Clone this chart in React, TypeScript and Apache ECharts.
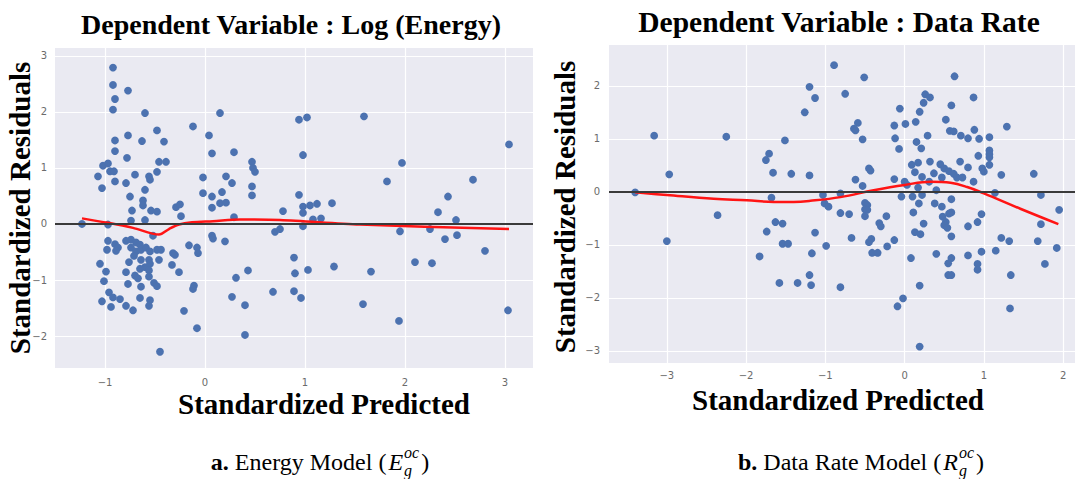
import { useEffect, useRef } from "react";
import * as echarts from "echarts";

// Residuals vs. predicted values, energy model: [standardized predicted, standardized residual]
const energyResiduals: [number, number][] = [
  [-0.92, 2.79], [-0.92, 2.48], [-0.77, 2.38], [-0.9, 2.23], [-0.92, 2.04], [-0.6, 1.98], [0.15, 1.98],
  [-0.12, 1.74], [-0.48, 1.67], [-0.77, 1.58], [0.04, 1.58], [-0.9, 1.49], [-0.63, 1.48], [-0.41, 1.47],
  [-0.9, 1.3], [0.07, 1.26], [0.29, 1.28], [-0.78, 1.18], [-0.46, 1.11], [-0.39, 1.11],
  [-1.02, 1.04], [-0.97, 1.08], [-0.95, 0.94], [-0.91, 0.94], [-0.9, 0.76], [-1.07, 0.85], [-1.03, 0.64],
  [-0.7, 0.88], [-0.79, 0.73], [-0.56, 0.85], [-0.55, 0.79], [-0.48, 0.93], [-0.6, 0.61], [-0.75, 0.49],
  [-0.62, 0.42], [-0.62, 0.33], [-0.73, 0.24], [-0.74, 0.06], [-0.6, 0.07], [-0.54, 0.24], [-0.48, 0.22],
  [-0.29, 0.3], [-0.25, 0.35], [-0.24, 0.14], [-0.02, 0.83], [-0.02, 0.55], [0.07, 0.49], [0.07, 0.29],
  [0.17, 0.57], [0.15, 0.37], [0.21, 0.38], [0.21, 0.85], [0.27, 0.73], [0.29, 0.12], [-1.23, 0.0],
  [-0.97, -0.01],
  [-0.97, -0.3], [-0.98, -0.46], [-0.9, -0.36], [-0.87, -0.42], [-0.89, -0.48], [-0.79, -0.3],
  [-0.74, -0.28], [-0.69, -0.33], [-0.65, -0.37], [-0.74, -0.42], [-0.69, -0.49], [-0.64, -0.46],
  [-0.59, -0.42], [-0.55, -0.49], [-0.48, -0.46], [-0.44, -0.46], [-0.71, -0.57], [-0.76, -0.68],
  [-0.64, -0.64], [-0.56, -0.64], [-0.46, -0.64], [-0.55, -0.71], [-0.6, -0.77], [-0.65, -0.8],
  [-0.56, -0.83], [-0.79, -0.86], [-0.7, -0.92], [-0.67, -0.97], [-0.56, -0.94], [-1.05, -0.71],
  [-0.99, -0.85], [-1.01, -1.02], [-0.77, -1.07], [-0.64, -1.12], [-0.51, -1.05], [-0.48, -1.11],
  [-0.96, -1.22], [-0.92, -1.31], [-0.85, -1.34], [-1.03, -1.38], [-0.94, -1.48], [-0.79, -1.46],
  [-0.72, -1.54], [-0.65, -1.32], [-0.55, -1.36], [-0.56, -1.46], [-0.32, -0.52], [-0.3, -0.55],
  [-0.33, -0.73], [-0.26, -0.86], [-0.16, -0.38], [-0.08, -0.42], [-0.07, -0.52], [-0.11, -1.1],
  [-0.12, -1.16], [-0.21, -1.55], [-0.08, -1.86], [-0.45, -2.28], [0.07, -0.21], [0.08, -0.26],
  [0.2, -0.31], [0.31, -0.96], [0.27, -1.3], [-0.52, -0.21],
  [0.47, 1.11], [0.48, 1.0], [0.5, 0.93], [0.47, 0.67], [0.47, 0.51], [0.7, -0.14],
  [0.43, -0.83], [0.4, -1.45], [0.4, -1.98], [0.68, -1.21],
  [0.94, 1.86], [1.02, 1.9], [1.59, 1.92], [3.04, 1.42], [0.98, 1.23], [1.97, 1.09], [1.82, 0.76],
  [2.68, 0.79], [2.43, 0.49], [0.94, 0.52], [0.98, 0.31], [0.98, 0.2], [1.05, 0.33], [1.12, 0.36],
  [1.27, 0.37], [0.78, 0.23], [1.08, 0.08], [1.16, 0.1], [2.33, 0.21], [2.51, 0.07], [0.98, -0.04],
  [0.75, -0.09], [1.95, -0.13], [2.25, -0.09], [2.4, -0.27], [2.52, -0.2],
  [2.8, -0.48], [2.1, -0.68], [2.27, -0.7], [0.89, -0.6], [0.9, -0.88], [1.03, -0.82], [1.29, -0.76],
  [1.66, -0.85], [0.89, -1.2], [0.96, -1.32], [1.58, -1.43], [1.94, -1.73], [3.03, -1.54],
];

// Locally weighted fit through the energy residuals
const energyTrend: [number, number][] = [
  [-1.23, 0.1], [-0.97, 0.02], [-0.72, -0.07], [-0.46, -0.19], [-0.36, -0.09], [-0.26, -0.01],
  [-0.13, 0.03], [0.08, 0.05], [0.35, 0.08], [0.75, 0.07], [1.55, -0.01], [3.04, -0.09],
];

// Residuals vs. predicted values, data rate model
const rateResiduals: [number, number][] = [
  [-0.51, 2.16], [0.63, 2.18], [-0.75, 1.85], [0.26, 1.84], [0.32, 1.78], [0.24, 1.68], [0.87, 1.78],
  [0.59, 1.63], [-0.06, 1.57], [0.19, 1.51], [0.52, 1.36], [-0.59, 1.3], [-0.64, 1.19], [-0.62, 1.16],
  [-0.13, 1.25], [0.01, 1.28], [0.14, 1.32], [0.57, 1.15], [0.62, 1.14], [0.88, 1.17], [1.29, 1.23],
  [-0.53, 0.99], [-0.12, 1.01], [0.15, 0.94], [0.29, 1.06], [0.21, 0.82], [-0.07, 0.81], [0.71, 1.06],
  [0.8, 1.01], [0.94, 1.0], [1.07, 1.03], [1.07, 0.78], [1.07, 0.71], [1.07, 0.65], [0.93, 0.68],
  [0.98, 0.44], [1.0, 0.38], [1.07, 0.51], [1.22, 0.32], [0.8, 0.46], [0.7, 0.57], [0.32, 0.57],
  [0.09, 0.51], [0.17, 0.55], [0.13, 0.37], [0.22, 0.28], [0.37, 0.35], [0.45, 0.52], [0.5, 0.44],
  [0.56, 0.39], [0.62, 0.34], [0.66, 0.27], [0.73, 0.27], [0.87, 0.19], [0.47, 0.27], [0.31, 0.19],
  [-0.13, 0.24], [-0.45, 0.44], [-0.43, 0.4], [-0.62, 0.23], [-0.53, 0.11], [0.0, 0.19], [0.03, 0.13],
  [0.17, 0.08], [0.4, 0.03], [1.14, -0.02], [-0.81, -0.03], [-0.04, -0.09], [0.1, -0.09], [0.22, -0.06],
  [0.59, -0.14], [-0.5, -0.21], [-0.47, -0.25], [-0.5, -0.33], [-0.47, -0.34], [-0.5, -0.46],
  [-0.7, -0.42], [-0.81, -0.4], [-0.23, -0.46], [-0.32, -0.59], [-0.3, -0.65], [-0.67, -0.87],
  [-0.42, -0.89], [-0.45, -0.95], [-0.13, -0.91], [-0.22, -1.03], [-0.41, -1.15], [-0.34, -1.15],
  [0.11, -0.39], [0.18, -0.22], [0.38, -0.22], [0.47, -0.28], [0.59, -0.39], [0.56, -0.41],
  [0.48, -0.47], [0.52, -0.57], [0.5, -0.63], [0.54, -0.68], [0.59, -0.84], [0.24, -0.6], [0.13, -0.76],
  [0.2, -0.8], [0.97, -0.42], [0.92, -0.57], [0.8, -0.65], [1.22, -0.87], [1.32, -0.93], [1.15, -1.11],
  [0.97, -1.13], [0.8, -1.2], [0.4, -1.17], [0.08, -1.25], [0.59, -1.25], [0.55, -1.35], [0.92, -1.36],
  [0.92, -1.47], [0.55, -1.57], [0.59, -1.57], [1.34, -1.57], [-0.81, -1.8], [0.19, -1.77],
  [-0.02, -2.01], [-0.09, -2.16], [1.33, -2.2], [0.19, -2.92],
  [-0.89, 2.39], [-1.2, 1.98], [-1.13, 1.77], [-1.26, 1.5], [-1.2, 0.31], [-1.03, -0.06], [-1.01, -0.22],
  [-0.96, -0.28], [-1.13, -0.77], [1.63, 0.34], [1.72, -0.06], [1.95, -0.34], [1.72, -0.61],
  [1.68, -0.93], [-0.99, -1.02], [-1.17, -1.16], [-1.2, -1.57], [-1.18, -1.76], [1.92, -1.06],
  [1.77, -1.36],
  [-3.4, -0.01], [-3.16, 1.06], [-2.97, 0.33], [-2.25, 1.04], [-2.36, -0.44], [-3.0, -0.93],
  [-1.75, 0.6], [-1.71, 0.72], [-1.66, 0.36], [-1.51, 0.97], [-1.43, 0.34], [-1.68, -0.11],
  [-1.63, -0.57], [-1.54, -0.6], [-1.74, -0.75], [-1.54, -0.98], [-1.47, -0.98], [-1.83, -1.22],
  [-1.58, -1.72], [-1.35, -1.72],
];

// Locally weighted fit through the data rate residuals
const rateTrend: [number, number][] = [
  [-3.4, -0.01], [-3.0, -0.06], [-2.41, -0.13], [-1.99, -0.16], [-1.65, -0.19], [-1.4, -0.19],
  [-1.19, -0.17], [-0.81, -0.1], [-0.39, 0.03], [0.0, 0.13], [0.33, 0.19], [0.58, 0.17], [0.79, 0.09],
  [1.0, -0.03], [1.46, -0.32], [1.94, -0.61],
];

const titles = ["Dependent Variable : Log (Energy)", "Dependent Variable : Data Rate"];
const xTitle = "Standardized Predicted";
const yTitle = "Standardized Residuals";

const BG = "#EAEAF2";
const DOT = "#4C72B0";
const TREND = "#FF1414";
const SERIF = '"Liberation Serif", "Times New Roman", serif';

const tickFormat = (v: number) => (v < 0 ? "\u2212" + Math.abs(v) : String(v));

function axisCommon(min: number, max: number, margin: number) {
  return {
    type: "value" as const,
    min,
    max,
    minInterval: 1,
    maxInterval: 1,
    axisLine: { show: false },
    axisTick: { show: false },
    splitLine: { show: true, showMinLine: false, showMaxLine: false, lineStyle: { color: "#ffffff", width: 1.2 } },
    axisLabel: {
      showMinLabel: false,
      showMaxLabel: false,
      color: "#6b6b6b",
      fontSize: 10,
      fontFamily: "DejaVu Sans",
      margin,
      formatter: tickFormat,
    },
  };
}

// Caption with a bold label, plain words and an italic symbol carrying super/subscripts
function caption(label: string, words: string, sym: string, sup: string, sub: string, cx: number, cy: number) {
  const ctx = document.createElement("canvas").getContext("2d")!;
  const size = 24;
  const small = 16;
  const measure = (t: string, font: string) => {
    ctx.font = font;
    return ctx.measureText(t).width;
  };
  const fBold = `bold ${size}px ${SERIF}`;
  const fReg = `${size}px ${SERIF}`;
  const fIt = `italic ${size}px ${SERIF}`;
  const fSmall = `italic ${small}px ${SERIF}`;
  const wLabel = measure(label, fBold);
  const wWords = measure(words, fReg);
  const wSym = measure(sym, fIt);
  const wScript = Math.max(measure(sup, fSmall), measure(sub, fSmall));
  const wClose = measure(")", fReg);
  const gap = 2;
  const total = wLabel + wWords + gap + wSym + 1 + wScript + gap + wClose;
  let x = cx - total / 2;
  const mk = (text: string, px: number, py: number, fs: number, fw: string, fst: string) => ({
    type: "text",
    x: px,
    y: py,
    style: {
      text,
      fontSize: fs,
      fontWeight: fw,
      fontStyle: fst,
      fontFamily: SERIF,
      fill: "#000",
      align: "left",
      verticalAlign: "middle",
      textAlign: "left",
      textVerticalAlign: "middle",
    },
  });
  const out: any[] = [];
  out.push(mk(label, x, cy, size, "bold", "normal"));
  x += wLabel;
  out.push(mk(words, x, cy, size, "normal", "normal"));
  x += wWords + gap;
  out.push(mk(sym, x, cy, size, "normal", "italic"));
  x += wSym + 1;
  out.push(mk(sup, x, cy - 10, small, "normal", "italic"));
  out.push(mk(sub, x, cy + 8, small, "normal", "italic"));
  x += wScript + gap;
  out.push(mk(")", x, cy, size, "normal", "normal"));
  return out;
}

function heading(text: string, x: number, y: number, size: number, rotation = 0) {
  return {
    type: "text",
    x,
    y,
    rotation,
    style: {
      text,
      fontSize: size,
      fontWeight: "bold",
      fontFamily: SERIF,
      fill: "#000",
      align: "center",
      verticalAlign: "middle",
      textAlign: "center",
      textVerticalAlign: "middle",
    },
  };
}

export default function App() {
  const ref = useRef<HTMLDivElement>(null);

  useEffect(() => {
    if (!ref.current) return;
    const chart = echarts.init(ref.current, undefined, { renderer: "svg" });

    const zeroLine = (xi: number) => ({
      type: "line",
      xAxisIndex: xi,
      yAxisIndex: xi,
      data: [],
      z: 3,
      silent: true,
      markLine: {
        silent: true,
        symbol: "none",
        label: { show: false },
        lineStyle: { color: "#3a3a3a", width: 2.2, type: "solid" },
        data: [{ yAxis: 0 }],
      },
    });

    chart.setOption({
      animation: false,
      backgroundColor: "#ffffff",
      grid: [
        { left: 55, top: 48, width: 478, height: 320, show: true, backgroundColor: BG, borderWidth: 0 },
        { left: 609, top: 45, width: 466, height: 318, show: true, backgroundColor: BG, borderWidth: 0 },
      ],
      xAxis: [
        { gridIndex: 0, ...axisCommon(-1.5, 3.28, 9) },
        { gridIndex: 1, ...axisCommon(-3.73, 2.15, 7) },
      ],
      yAxis: [
        { gridIndex: 0, ...axisCommon(-2.57, 3.14, 8) },
        { gridIndex: 1, ...axisCommon(-3.23, 2.77, 9) },
      ],
      series: [
        {
          type: "scatter",
          xAxisIndex: 0,
          yAxisIndex: 0,
          data: energyResiduals,
          symbolSize: 7.8,
          itemStyle: { color: DOT, opacity: 1 },
          z: 2,
        },
        zeroLine(0),
        {
          type: "line",
          xAxisIndex: 0,
          yAxisIndex: 0,
          data: energyTrend,
          showSymbol: false,
          smooth: 0.3,
          lineStyle: { color: TREND, width: 2.5 },
          z: 4,
        },
        {
          type: "scatter",
          xAxisIndex: 1,
          yAxisIndex: 1,
          data: rateResiduals,
          symbolSize: 7.8,
          itemStyle: { color: DOT, opacity: 1 },
          z: 2,
        },
        zeroLine(1),
        {
          type: "line",
          xAxisIndex: 1,
          yAxisIndex: 1,
          data: rateTrend,
          showSymbol: false,
          smooth: 0.4,
          lineStyle: { color: TREND, width: 2.5 },
          z: 4,
        },
      ],
      graphic: [
        heading(titles[0], 291, 24, 28),
        heading(titles[1], 839, 22, 29.5),
        heading(yTitle, 20, 208, 29, Math.PI / 2),
        heading(yTitle, 565, 207, 29, Math.PI / 2),
        heading(xTitle, 324, 404, 29),
        heading(xTitle, 838, 400, 29),
        ...caption("a.", " Energy Model (", "E", "oc", "g", 320, 462),
        ...caption("b.", " Data Rate Model (", "R", "oc", "g", 861, 462),
      ],
    });

    return () => chart.dispose();
  }, []);

  return <div ref={ref} style={{ position: "absolute", left: 0, top: 0, width: 1075, height: 479 }} />;
}
